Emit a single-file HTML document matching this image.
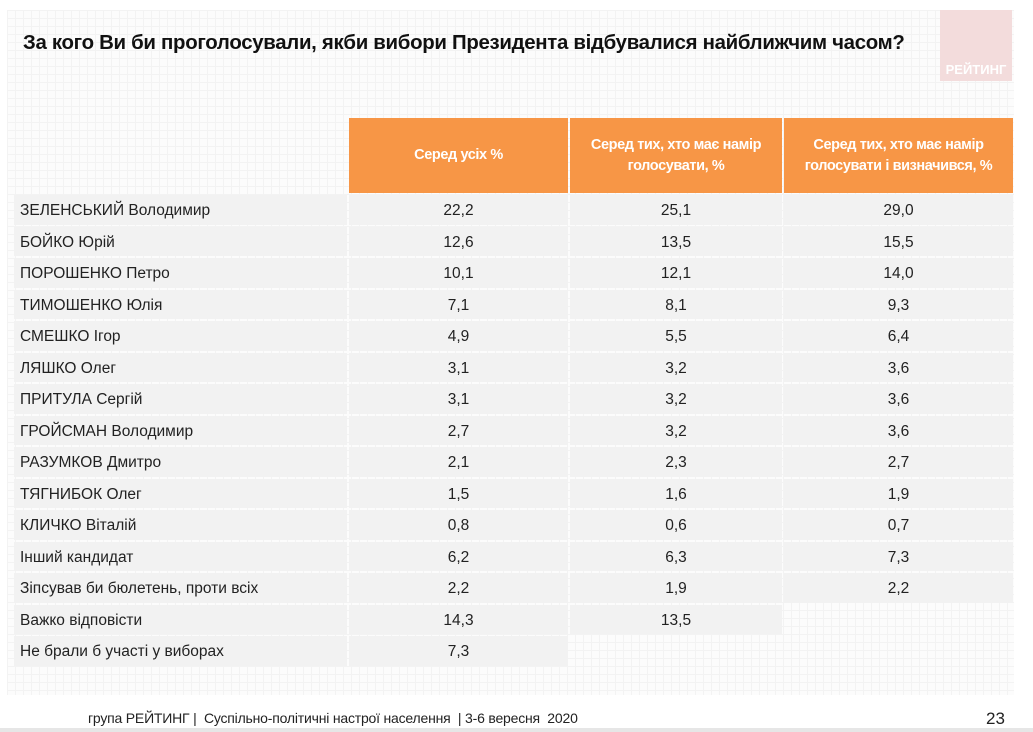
<!DOCTYPE html>
<html><head><meta charset="utf-8"><style>
body{margin:0;width:1033px;height:732px;background:#fff;position:relative;overflow:hidden;font-family:"Liberation Sans",sans-serif;}
.bg{position:absolute;left:7px;top:10px;width:1007px;height:685px;background-color:#fcfcfc;background-image:linear-gradient(#f3f3f3 1px,transparent 1px),linear-gradient(90deg,#f3f3f3 1px,transparent 1px);background-size:8px 8px;}
.title{position:absolute;left:23px;top:32px;font-size:20.4px;font-weight:bold;color:#111;letter-spacing:-0.3px;}
.logo{position:absolute;left:940px;top:10px;width:72px;height:71px;background:#f3dcdc;}
.logo span{position:absolute;bottom:4px;left:0;width:72px;text-align:center;color:#fff;font-weight:bold;font-size:13px;}
table{position:absolute;left:12px;top:116px;border-collapse:separate;border-spacing:2px;table-layout:fixed;width:1003px;}
td{height:26.5px;background:#f2f2f2;font-size:15.5px;color:#222;padding:0;padding-top:3px;overflow:hidden;white-space:nowrap;}
td.l{padding-left:6px;}
td.n{text-align:center;}
th{background:#f79646;color:#fff;font-size:14.5px;font-weight:bold;height:75px;line-height:21px;padding:0;white-space:nowrap;letter-spacing:-0.4px;}
.e{background:transparent;}
.foot{position:absolute;left:88px;top:710px;font-size:14px;color:#222;letter-spacing:-0.2px;}
.pg{position:absolute;left:986px;top:709px;font-size:17px;color:#222;}
.line{position:absolute;left:0;top:728px;width:1033px;height:4px;background:#e6e6e6;}
</style></head><body>
<div class="bg"></div>
<div class="title">За кого Ви би проголосували, якби вибори Президента відбувалися найближчим часом?</div>
<div class="logo"><span>РЕЙТИНГ</span></div>
<table>
<colgroup><col style="width:333px"><col style="width:219px"><col style="width:212px"><col style="width:229px"></colgroup>
<tr><td class="e" style="height:75px;padding:0"></td><th>Серед усіх %</th><th>Серед тих, хто має намір<br>голосувати, %</th><th>Серед тих, хто має намір<br>голосувати і визначився, %</th></tr>
<tr><td class="l">ЗЕЛЕНСЬКИЙ Володимир</td><td class="n">22,2</td><td class="n">25,1</td><td class="n">29,0</td></tr>
<tr><td class="l">БОЙКО Юрій</td><td class="n">12,6</td><td class="n">13,5</td><td class="n">15,5</td></tr>
<tr><td class="l">ПОРОШЕНКО Петро</td><td class="n">10,1</td><td class="n">12,1</td><td class="n">14,0</td></tr>
<tr><td class="l">ТИМОШЕНКО Юлія</td><td class="n">7,1</td><td class="n">8,1</td><td class="n">9,3</td></tr>
<tr><td class="l">СМЕШКО Ігор</td><td class="n">4,9</td><td class="n">5,5</td><td class="n">6,4</td></tr>
<tr><td class="l">ЛЯШКО Олег</td><td class="n">3,1</td><td class="n">3,2</td><td class="n">3,6</td></tr>
<tr><td class="l">ПРИТУЛА Сергій</td><td class="n">3,1</td><td class="n">3,2</td><td class="n">3,6</td></tr>
<tr><td class="l">ГРОЙСМАН Володимир</td><td class="n">2,7</td><td class="n">3,2</td><td class="n">3,6</td></tr>
<tr><td class="l">РАЗУМКОВ Дмитро</td><td class="n">2,1</td><td class="n">2,3</td><td class="n">2,7</td></tr>
<tr><td class="l">ТЯГНИБОК Олег</td><td class="n">1,5</td><td class="n">1,6</td><td class="n">1,9</td></tr>
<tr><td class="l">КЛИЧКО Віталій</td><td class="n">0,8</td><td class="n">0,6</td><td class="n">0,7</td></tr>
<tr><td class="l">Інший кандидат</td><td class="n">6,2</td><td class="n">6,3</td><td class="n">7,3</td></tr>
<tr><td class="l">Зіпсував би бюлетень, проти всіх</td><td class="n">2,2</td><td class="n">1,9</td><td class="n">2,2</td></tr>
<tr><td class="l">Важко відповісти</td><td class="n">14,3</td><td class="n">13,5</td><td class="e"></td></tr>
<tr><td class="l">Не брали б участі у виборах</td><td class="n">7,3</td><td class="e"></td><td class="e"></td></tr>
</table>
<div class="foot">група РЕЙТИНГ |&nbsp; Суспільно-політичні настрої населення &nbsp;| 3-6 вересня &nbsp;2020</div>
<div class="pg">23</div>
<div class="line"></div>
</body></html>
